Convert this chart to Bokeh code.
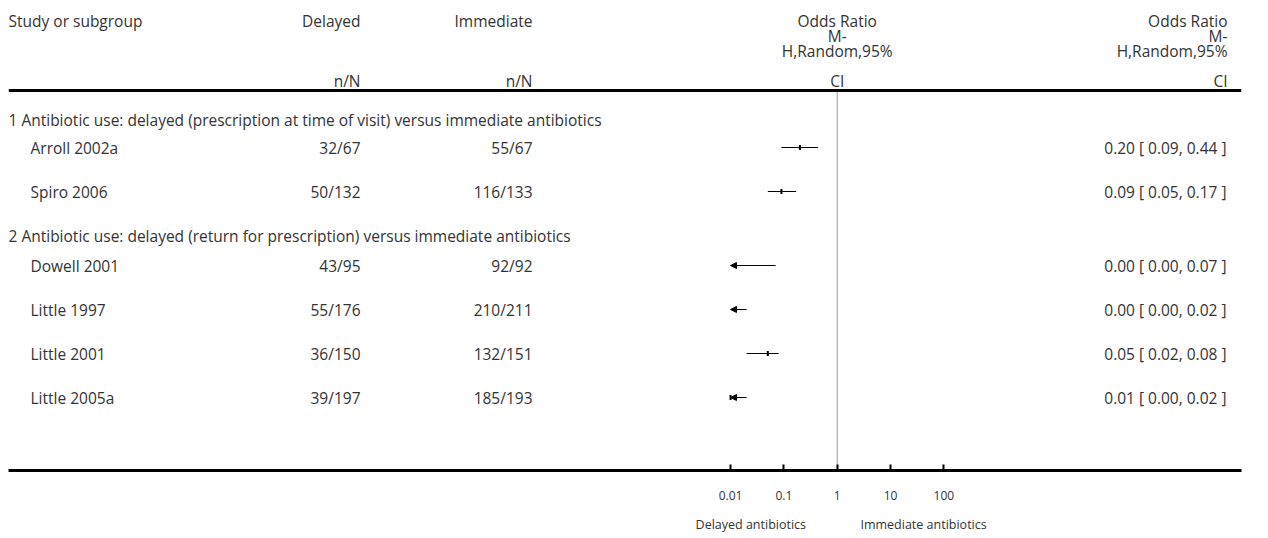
from bokeh.plotting import figure
from bokeh.models import (Range1d, LinearScale, FixedTicker, LogAxis, Span,
                          ColumnDataSource, CustomJSTickFormatter, Arrow, NormalHead)
from bokeh.embed import file_html
from bokeh.resources import INLINE
from bokeh.core.properties import value

# ---------------- data ----------------
groups = [
    "1 Antibiotic use: delayed (prescription at time of visit) versus immediate antibiotics",
    "2 Antibiotic use: delayed (return for prescription) versus immediate antibiotics",
]
studies = ["Arroll 2002a", "Spiro 2006", "Dowell 2001", "Little 1997", "Little 2001", "Little 2005a"]
delayed_n = [32, 50, 43, 55, 36, 39]
delayed_N = [67, 132, 95, 176, 150, 197]
immediate_n = [55, 116, 92, 210, 132, 185]
immediate_N = [67, 133, 92, 211, 151, 193]
or_est = [0.20, 0.09, 0.00, 0.00, 0.05, 0.01]
or_lo = [0.09, 0.05, 0.00, 0.00, 0.02, 0.00]
or_hi = [0.44, 0.17, 0.07, 0.02, 0.08, 0.02]
tick_values = [0.01, 0.1, 1, 10, 100]
tick_labels = ["0.01", "0.1", "1", "10", "100"]
favours = ["Delayed antibiotics", "Immediate antibiotics"]
col_headers = ["Study or subgroup", "Delayed", "Immediate", "Odds Ratio", "Odds Ratio"]
sub_header_nN = "n/N"
sub_header_or = ["M-", "H,Random,95%", "CI"]

# ---------------- layout (canvas px) ----------------
FRAME_L, FRAME_R = 8, 1241
FRAME_W = FRAME_R - FRAME_L
FRAME_H = 470               # axis line y
DEC = 53.33                 # px per decade
ONE_X = 836.7               # canvas x of OR = 1
AXIS_MIN = tick_values[0]

FONT_NAME = "Open Sans"
FONT = value(FONT_NAME)
FS = "15.5px"
TXT = "#333333"

group_y = [119, 235]
study_y = [147, 191, 265, 309, 353, 397]
header_y = 20
sub_y = [35, 50, 80]
nN_y = 80
RULE_Y = 90

X_NAME = 8
X_STUDY = 30
X_DEL = 360
X_IMM = 532
X_FOREST = ONE_X
X_RIGHT = 1227

lo_log = -(ONE_X - FRAME_L) / DEC
hi_log = (FRAME_R - ONE_X) / DEC

p = figure(frame_width=FRAME_W, frame_height=FRAME_H, x_axis_type="log",
           x_range=Range1d(10 ** lo_log, 10 ** hi_log),
           y_range=Range1d(FRAME_H, 0),
           y_axis_location=None, output_backend="svg", toolbar_location=None,
           min_border_left=FRAME_L, min_border_right=1268 - FRAME_R,
           min_border_top=0, min_border_bottom=0)
p.extra_x_ranges = {"px": Range1d(FRAME_L, FRAME_R)}
p.extra_x_scales = {"px": LinearScale()}
p.grid.visible = False
p.outline_line_color = None


def txt(xs, ys, texts, align):
    src = ColumnDataSource(dict(x=xs, y=ys, t=texts))
    p.text(x="x", y="y", text="t", source=src, x_range_name="px",
           text_font=FONT, text_font_size=FS, text_color=TXT,
           text_align=align, text_baseline="middle")


# headers
txt([X_NAME], [header_y], [col_headers[0]], "left")
txt([X_DEL, X_IMM], [header_y] * 2, col_headers[1:3], "right")
txt([X_FOREST], [header_y], [col_headers[3]], "center")
txt([X_RIGHT], [header_y], [col_headers[4]], "right")
txt([X_DEL, X_IMM], [nN_y] * 2, [sub_header_nN] * 2, "right")
txt([X_FOREST] * 3, sub_y, sub_header_or, "center")
txt([X_RIGHT] * 3, sub_y, sub_header_or, "right")

# group headers
txt([X_NAME] * len(groups), group_y, groups, "left")

# study rows
txt([X_STUDY] * len(studies), study_y, studies, "left")
txt([X_DEL] * len(studies), study_y, [f"{a}/{b}" for a, b in zip(delayed_n, delayed_N)], "right")
txt([X_IMM] * len(studies), study_y, [f"{a}/{b}" for a, b in zip(immediate_n, immediate_N)], "right")
txt([X_RIGHT - 1] * len(studies), study_y,
    [f"{e:.2f} [ {l:.2f}, {h:.2f} ]" for e, l, h in zip(or_est, or_lo, or_hi)], "right")

# rules
p.add_layout(Span(location=RULE_Y, dimension="width", line_color="black", line_width=3))
p.segment(x0=[1], y0=[RULE_Y], x1=[1], y1=[FRAME_H], line_color="#999999", line_width=1)

# confidence intervals
full = [i for i in range(len(studies)) if or_lo[i] >= AXIS_MIN]
trunc = [i for i in range(len(studies)) if or_lo[i] < AXIS_MIN]
p.segment(x0=[or_lo[i] for i in full], x1=[or_hi[i] for i in full],
          y0=[study_y[i] for i in full], y1=[study_y[i] for i in full],
          line_color="black", line_width=1)
arr_src = ColumnDataSource(dict(xs=[or_hi[i] for i in trunc], xe=[AXIS_MIN] * len(trunc),
                                y=[study_y[i] for i in trunc]))
p.add_layout(Arrow(end=NormalHead(size=6, line_color="black", fill_color="black", line_width=1),
                   x_start="xs", y_start="y", x_end="xe", y_end="y", source=arr_src,
                   line_color="black", line_width=1))
pts = [i for i in range(len(studies)) if or_est[i] >= AXIS_MIN]
p.rect(x=[or_est[i] for i in pts], y=[study_y[i] for i in pts], width=2, height=5,
       width_units="screen", height_units="screen", fill_color="black", line_color=None)

# axis
ax = p.xaxis[0]
ax.ticker = FixedTicker(ticks=tick_values, minor_ticks=[])
ax.formatter = CustomJSTickFormatter(args=dict(labels=tick_labels), code="return labels[index];")
ax.axis_line_width = 3
ax.axis_line_color = "black"
ax.major_tick_line_width = 2
ax.major_tick_line_color = "black"
ax.major_tick_in = 6
ax.major_tick_out = 0
ax.minor_tick_line_color = None
ax.major_label_standoff = 20
ax.major_label_text_font = FONT_NAME
ax.major_label_text_font_size = "12px"
ax.major_label_text_color = TXT

ax2 = LogAxis(ticker=FixedTicker(ticks=[10 ** -1.62, 10 ** 1.62], minor_ticks=[]),
              formatter=CustomJSTickFormatter(args=dict(labels=favours), code="return labels[index];"),
              axis_line_color=None, major_tick_line_color=None, minor_tick_line_color=None,
              major_tick_in=0, major_tick_out=0, major_label_standoff=13,
              major_label_text_font=FONT_NAME, major_label_text_font_size="12.5px",
              major_label_text_color=TXT)
p.add_layout(ax2, "below")

open("out.html", "w").write(file_html(p, INLINE))
